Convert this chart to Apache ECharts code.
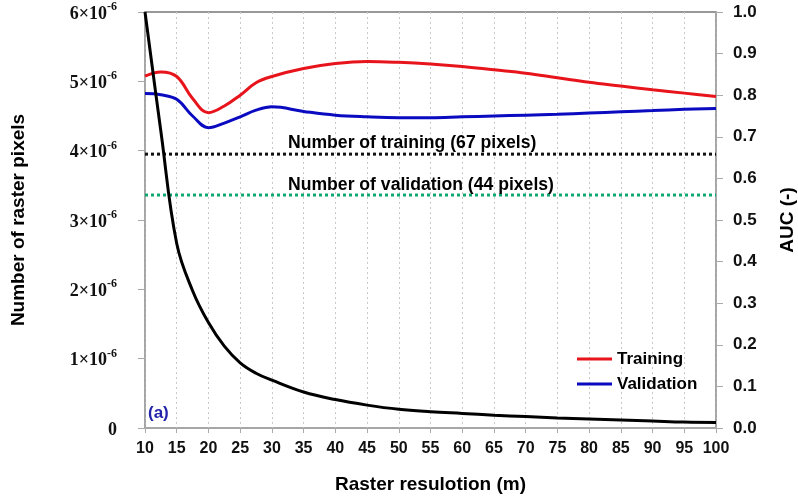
<!DOCTYPE html>
<html>
<head>
<meta charset="utf-8">
<script src="https://cdn.jsdelivr.net/npm/echarts@6/dist/echarts.min.js"></script>
<style>
html,body{margin:0;padding:0;background:#fff;}
#chart{width:798px;height:501px;}
</style>
</head>
<body>
<div id="chart"></div>
<script>
// Raster resolution (m)
var resolution = [10, 12.5, 15, 17.5, 20, 22.5, 25, 27.5, 30, 35, 40, 45, 50, 55, 60, 65, 70, 75, 80, 85, 90, 95, 100];
// Number of raster pixels (x10^-6 units, left axis)
var rasterPixels = [6.0, 4.28, 2.66, 1.98, 1.52, 1.18, 0.94, 0.79, 0.69, 0.52, 0.41, 0.33, 0.27, 0.235, 0.21, 0.185, 0.165, 0.145, 0.13, 0.115, 0.10, 0.085, 0.08];
// AUC (right axis)
var aucTraining = [0.846, 0.856, 0.845, 0.792, 0.758, 0.774, 0.800, 0.830, 0.845, 0.864, 0.876, 0.881, 0.879, 0.875, 0.869, 0.861, 0.853, 0.842, 0.831, 0.822, 0.813, 0.805, 0.797];
var aucValidation = [0.804, 0.801, 0.790, 0.750, 0.722, 0.733, 0.748, 0.764, 0.772, 0.761, 0.752, 0.748, 0.746, 0.746, 0.748, 0.750, 0.752, 0.754, 0.757, 0.760, 0.763, 0.766, 0.768];
// Reference levels (left axis units)
var trainingCountLevel = 3.95;
var validationCountLevel = 3.36;
var xRange = [10, 100];
var leftTicks = [0, 1, 2, 3, 4, 5, 6];
var rightTicks = [0, 0.1, 0.2, 0.3, 0.4, 0.5, 0.6, 0.7, 0.8, 0.9, 1.0];

function pairs(xs, ys) { return xs.map(function (x, i) { return [x, ys[i]]; }); }

var chart = echarts.init(document.getElementById('chart'), null, {renderer: 'canvas'});
var sans = 'Liberation Sans, Arial, sans-serif';
var serif = 'Liberation Serif, Times New Roman, serif';

var option = {
  backgroundColor: '#ffffff',
  animation: false,
  grid: {left: 145, right: 82, top: 12, bottom: 73, containLabel: false, outerBoundsMode: 'none',
    show: true, borderColor: '#777', borderWidth: 1.5, backgroundColor: 'transparent'},
  legend: {
    orient: 'vertical', left: 572, top: 345, itemWidth: 35, itemHeight: 3, itemGap: 7,
    textStyle: {fontFamily: sans, fontWeight: 'bold', fontSize: 17, color: '#000', lineHeight: 18},
    data: [{name: 'Training', icon: 'rect'}, {name: 'Validation', icon: 'rect'}]
  },
  xAxis: {
    type: 'value', min: xRange[0], max: xRange[1], interval: 5,
    name: 'Raster resulotion (m)', nameLocation: 'middle', nameGap: 47,
    nameTextStyle: {fontFamily: sans, fontWeight: 'bold', fontSize: 19, color: '#000'},
    axisLine: {show: true, lineStyle: {color: '#aaa', width: 1.5}},
    axisTick: {show: true, inside: false, length: 5, lineStyle: {color: '#aaa'}},
    axisLabel: {fontFamily: sans, fontWeight: 'bold', fontSize: 16, color: '#111', margin: 13},
    splitLine: {show: true, lineStyle: {color: '#c8c8c8', type: [2, 3], width: 1}}
  },
  yAxis: [{
    type: 'value', min: leftTicks[0], max: leftTicks[leftTicks.length - 1], interval: 1, position: 'left',
    name: 'Number of raster pixels', nameLocation: 'middle', nameGap: 117, nameRotate: 90,
    nameTextStyle: {fontFamily: sans, fontWeight: 'bold', fontSize: 19, color: '#000'},
    axisLine: {show: true, lineStyle: {color: '#aaa', width: 1.5}},
    axisTick: {show: true, inside: false, length: 7, lineStyle: {color: '#aaa'}},
    splitLine: {show: false},
    axisLabel: {
      margin: 28,
      formatter: function (v) { return v === 0 ? '{a|0}' : '{a|' + v + '×10}{b|-6}'; },
      rich: {
        a: {fontFamily: serif, fontWeight: 'bold', fontSize: 18, color: '#111', lineHeight: 22, verticalAlign: 'bottom'},
        b: {fontFamily: serif, fontWeight: 'bold', fontSize: 12, color: '#111', lineHeight: 14, verticalAlign: 'top'}
      }
    }
  }, {
    type: 'value', min: rightTicks[0], max: rightTicks[rightTicks.length - 1], interval: 0.1, position: 'right',
    name: 'AUC (-)', nameLocation: 'middle', nameGap: 62, nameRotate: 90,
    nameTextStyle: {fontFamily: sans, fontWeight: 'bold', fontSize: 19, color: '#000'},
    axisLine: {show: true, lineStyle: {color: '#aaa', width: 1.5}},
    axisTick: {show: true, inside: false, length: 7, lineStyle: {color: '#aaa'}},
    splitLine: {show: false},
    axisLabel: {fontFamily: sans, fontWeight: 'bold', fontSize: 17, color: '#111', margin: 17,
      formatter: function (v) { return v.toFixed(1); }}
  }],
  series: [
    {name: 'Number of training', type: 'line', yAxisIndex: 0, symbol: 'none', silent: true,
      data: [[xRange[0], trainingCountLevel], [xRange[1], trainingCountLevel]],
      lineStyle: {color: '#111', width: 3, type: [3, 3]}, z: 2},
    {name: 'Number of validation', type: 'line', yAxisIndex: 0, symbol: 'none', silent: true,
      data: [[xRange[0], validationCountLevel], [xRange[1], validationCountLevel]],
      lineStyle: {color: '#10a870', width: 3, type: [3, 3]}, z: 2},
    {name: 'Training', type: 'line', yAxisIndex: 1, symbol: 'none', smooth: 0.4,
      data: pairs(resolution, aucTraining), itemStyle: {color: '#e8141c'},
      lineStyle: {color: '#e8141c', width: 3}, z: 3},
    {name: 'Validation', type: 'line', yAxisIndex: 1, symbol: 'none', smooth: 0.4,
      data: pairs(resolution, aucValidation), itemStyle: {color: '#0a0ac0'},
      lineStyle: {color: '#0a0ac0', width: 3}, z: 3},
    {name: 'Raster pixels', type: 'line', yAxisIndex: 0, symbol: 'none', smooth: 0.4,
      data: pairs(resolution, rasterPixels),
      lineStyle: {color: '#000', width: 3}, z: 4}
  ],
  graphic: [
    {type: 'text', left: 288, top: 134, z: 10, style: {text: 'Number of training (67 pixels)', fontFamily: sans, fontWeight: 'bold', fontSize: 17.6, fill: '#000'}},
    {type: 'text', left: 288, top: 176, z: 10, style: {text: 'Number of validation (44 pixels)', fontFamily: sans, fontWeight: 'bold', fontSize: 17.6, fill: '#000'}},
    {type: 'text', left: 148, top: 405, z: 10, style: {text: '(a)', fontFamily: sans, fontWeight: 'bold', fontSize: 17, fill: '#2222aa'}}
  ]
};
chart.setOption(option);
</script>
</body>
</html>
